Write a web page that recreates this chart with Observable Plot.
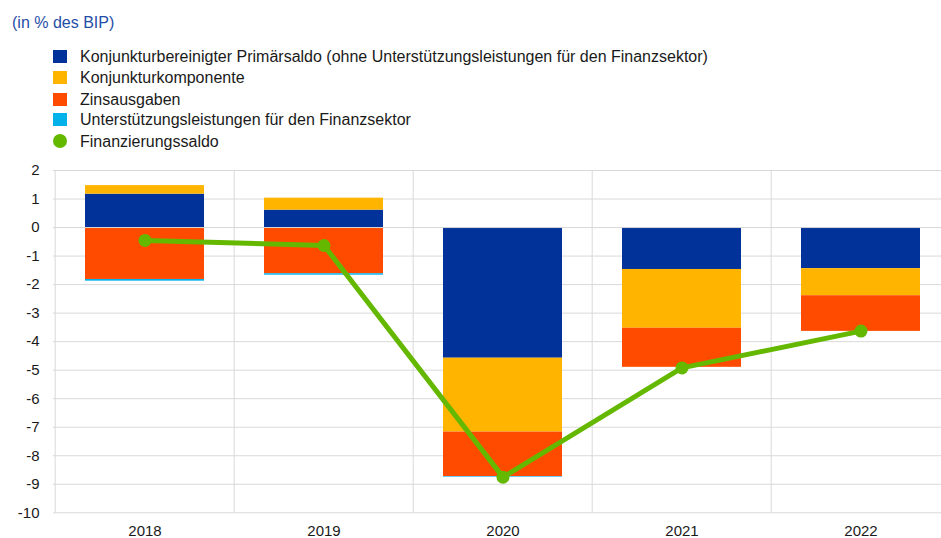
<!DOCTYPE html>
<html>
<head>
<meta charset="utf-8">
<script src="https://cdn.jsdelivr.net/npm/d3@7"></script>
<script src="https://cdn.jsdelivr.net/npm/@observablehq/plot@0.6"></script>
<style>
  html, body { margin: 0; padding: 0; background: #fff; }
  body { width: 941px; height: 538px; overflow: hidden; font-family: "Liberation Sans", Arial, sans-serif; }
  #head { position: relative; height: 160px; }
  #title { position: absolute; left: 12px; top: 13px; font-size: 16px; color: #1f4ea6; line-height: 20px; }
  .row { position: absolute; left: 53px; height: 20px; line-height: 20px; font-size: 16px; color: #1a1a1a; white-space: nowrap; }
  .sw { display: inline-block; width: 14px; height: 13px; vertical-align: -1px; margin-right: 13px; }
  .sw.dot { border-radius: 50%; width: 14px; height: 14px; }
</style>
</head>
<body>
<div id="head">
  <div id="title">(in % des BIP)</div>
</div>
<div id="chart"></div>
<script>
const years = ["2018", "2019", "2020", "2021", "2022"];
const seriesNames = [
  "Konjunkturbereinigter Primärsaldo (ohne Unterstützungsleistungen für den Finanzsektor)",
  "Konjunkturkomponente",
  "Zinsausgaben",
  "Unterstützungsleistungen für den Finanzsektor"
];
const lineName = "Finanzierungssaldo";
const primaerSaldo = [1.17, 0.61, -4.58, -1.47, -1.44];
const konjunktur = [0.30, 0.42, -2.59, -2.06, -0.95];
const zinsen = [-1.82, -1.62, -1.56, -1.37, -1.25];
const finanzsektor = [-0.06, -0.05, -0.02, 0, 0];
const finanzierungssaldo = [-0.45, -0.63, -8.75, -4.92, -3.63];
const yTicks = [2, 1, 0, -1, -2, -3, -4, -5, -6, -7, -8, -9, -10];
const colors = ["#003299", "#ffb400", "#ff4b00", "#00b1ea"];
const lineColor = "#65b800";

// legend
const head = document.getElementById("head");
const rowTops = [47, 68, 90, 110, 132];
[...seriesNames, lineName].forEach((name, i) => {
  const row = document.createElement("div");
  row.className = "row";
  row.style.top = rowTops[i] + "px";
  const sw = document.createElement("span");
  sw.className = "sw" + (i === 4 ? " dot" : "");
  sw.style.background = i === 4 ? lineColor : colors[i];
  row.appendChild(sw);
  row.appendChild(document.createTextNode(name));
  head.appendChild(row);
});

const seriesValues = [primaerSaldo, konjunktur, zinsen, finanzsektor];
const stacked = [];
seriesValues.forEach((vals, s) => {
  vals.forEach((v, i) => stacked.push({year: years[i], series: seriesNames[s], value: v}));
});
const totals = years.map((y, i) => ({year: y, value: finanzierungssaldo[i]}));

const left = 53, step = 179.6;
const chart = Plot.plot({
  width: 941,
  height: 378,
  marginTop: 10,
  marginBottom: 25.7,
  marginLeft: left,
  marginRight: 0,
  style: {fontFamily: "Liberation Sans, Arial, sans-serif", fontSize: "15px", color: "#1a1a1a", background: "#fff"},
  x: {domain: years, range: [left, left + step * years.length], padding: 0, label: null},
  y: {domain: [-10, 2], label: null},
  color: {domain: seriesNames, range: colors},
  marks: [
    Plot.ruleY(yTicks, {stroke: "#d9d9d9", strokeWidth: 1}),
    Plot.ruleX(years, {x: d => d, dx: -step / 2, stroke: "#d9d9d9", strokeWidth: 1}),
    Plot.barY(stacked, Plot.stackY({x: "year", y: "value", fill: "series", z: "series", insetLeft: 30, insetRight: 30})),
    Plot.ruleY([0], {stroke: "#d9d9d9", strokeWidth: 1}),
    Plot.line(totals, {x: "year", y: "value", stroke: lineColor, strokeWidth: 5, curve: "linear"}),
    Plot.dot(totals, {x: "year", y: "value", fill: lineColor, r: 6.5}),
    Plot.axisY(yTicks, {tickSize: 0, tickPadding: 14, tickFormat: d => String(d), fontSize: "15px"}),
    Plot.axisX(years, {tickSize: 0, tickPadding: 12.5, fontSize: "15px"})
  ]
});
document.getElementById("chart").appendChild(chart);
</script>
</body>
</html>
